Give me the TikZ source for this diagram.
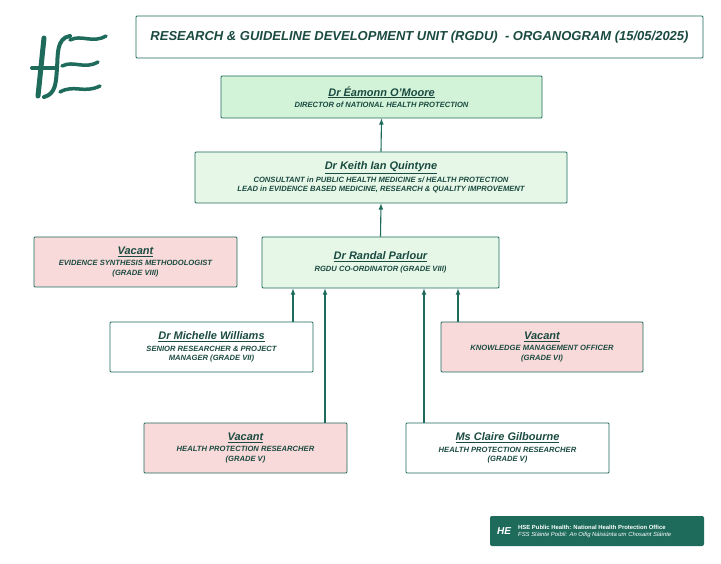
\documentclass[tikz,border=0pt]{standalone}
\usepackage{fontspec}
\setmainfont{Liberation Sans}
\usetikzlibrary{positioning}
\definecolor{hseteal}{HTML}{1E6B5C}
\definecolor{hsetext}{HTML}{1A4A40}
\definecolor{boxgreen}{HTML}{D3F3D9}
\definecolor{boxpale}{HTML}{E6F7E8}
\definecolor{boxpink}{HTML}{F9DADA}
\tikzset{
  post/.style={draw=hseteal, line width=0.9pt, rounded corners=1pt, align=center, text=hsetext,
    font=\bfseries\itshape\fontsize{7.6}{9.6}\selectfont, inner sep=2pt},
  upline/.style={draw=hseteal, line width=1.1pt, -latex},
}
\newcommand{\who}[1]{{\fontsize{11}{12}\selectfont\underline{#1}}\\[2pt]}
\begin{document}
\begin{tikzpicture}[x=1pt,y=-1pt]
\useasboundingbox (0,0) rectangle (721,564);
\fill[white] (0,0) rectangle (721,564);
% logo
\begin{scope}[hseteal, line cap=round]
  \draw[line width=5pt] (44,38) -- (38,96);
  \draw[line width=4pt] (32,68) -- (56,68);
  \draw[line width=4pt] (70,36) .. controls (56,38) and (58,56) .. (57,68) .. controls (56,82) and (56,94) .. (44,97);
  \draw[line width=3.5pt] (70,40) .. controls (82,34) and (92,44) .. (106,36);
  \draw[line width=3.5pt] (62,66) .. controls (74,60) and (84,70) .. (98,62);
  \draw[line width=3.5pt] (60,92) .. controls (74,84) and (84,94) .. (100,86);
\end{scope}
% title
\node[post, fill=white, minimum width=567pt, minimum height=42pt,
  font=\bfseries\itshape\fontsize{13}{14}\selectfont] (title) at (419.5,37) {RESEARCH \& GUIDELINE DEVELOPMENT UNIT (RGDU) \ - ORGANOGRAM (15/05/2025)};
% posts
\node[post, fill=boxgreen, minimum width=321pt, minimum height=42pt] (director) at (381.5,97)
  {\who{Dr Éamonn O’Moore}DIRECTOR of NATIONAL HEALTH PROTECTION};
\node[post, fill=boxpale, minimum width=372pt, minimum height=51pt] (lead) at (381,177.5)
  {\who{Dr Keith Ian Quintyne}CONSULTANT in PUBLIC HEALTH MEDICINE s/ HEALTH PROTECTION\\LEAD in EVIDENCE BASED MEDICINE, RESEARCH \& QUALITY IMPROVEMENT};
\node[post, fill=boxpale, minimum width=237pt, minimum height=51pt] (coord) at (380.5,262.5)
  {\who{Dr Randal Parlour}RGDU CO-ORDINATOR (GRADE VIII)};
\node[post, fill=boxpink, minimum width=203pt, minimum height=50pt] (method) at (135.5,262)
  {\who{Vacant}EVIDENCE SYNTHESIS METHODOLOGIST\\(GRADE VIII)};
\node[post, fill=white, minimum width=203pt, minimum height=50pt] (senior) at (211.5,347)
  {\who{Dr Michelle Williams}SENIOR RESEARCHER \& PROJECT\\MANAGER (GRADE VII)};
\node[post, fill=boxpink, minimum width=202pt, minimum height=50pt] (knowledge) at (542,347)
  {\who{Vacant}KNOWLEDGE MANAGEMENT OFFICER\\(GRADE VI)};
\node[post, fill=boxpink, minimum width=203pt, minimum height=50pt] (hpvacant) at (245.5,448)
  {\who{Vacant}HEALTH PROTECTION RESEARCHER\\(GRADE V)};
\node[post, fill=white, minimum width=203pt, minimum height=50pt] (hpclaire) at (507.5,448)
  {\who{Ms Claire Gilbourne}HEALTH PROTECTION RESEARCHER\\(GRADE V)};
% connectors
\draw[upline] (lead.north) -- (director.south);
\draw[upline] (coord.north) -- (lead.south);
\draw[upline] (senior.north -| 293,0) -- (coord.south -| 293,0);
\draw[upline] (hpvacant.north -| 325,0) -- (coord.south -| 325,0);
\draw[upline] (hpclaire.north -| 424,0) -- (coord.south -| 424,0);
\draw[upline] (knowledge.north -| 458,0) -- (coord.south -| 458,0);
% badge
\node[fill=hseteal, rounded corners=2pt, minimum width=214pt, minimum height=30pt] (badge) at (597,531) {};
\node[text=white, anchor=west, inner sep=0pt, font=\bfseries\itshape\fontsize{10}{10}\selectfont] (badgelogo) at (497,531) {HE};
\node[text=white, anchor=west, align=left, inner sep=0pt, font=\fontsize{5.9}{7}\selectfont] (badgetext) at (518,531)
  {\textbf{HSE Public Health: National Health Protection Office}\\\textit{FSS Sláinte Poiblí: An Oifig Náisiúnta um Chosaint Sláinte}};
\end{tikzpicture}
\end{document}
